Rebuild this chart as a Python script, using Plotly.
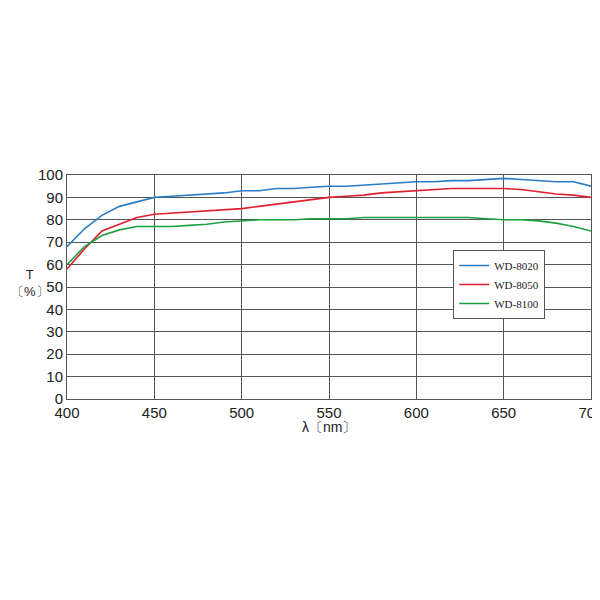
import plotly.graph_objects as go

wl = list(range(400, 701, 10))
wd8020 = [68,76,82,86,88,90,90.5,91,91.5,92,93,93,94,94,94.5,95,95,95.5,96,96.5,97,97,97.5,97.5,98,98.5,98,97.5,97,97,95]
wd8050 = [58,67,75,78,81,82.5,83,83.5,84,84.5,85,86,87,88,89,90,90.5,91,92,92.5,93,93.5,94,94,94,94,93.5,92.5,91.5,91,90]
wd8100 = [60,68,73,75.5,77,77,77,77.5,78,79,79.5,80,80,80,80.5,80.5,80.5,81,81,81,81,81,81,81,80.5,80,80,79.5,78.5,77,75]

fig = go.Figure()
for name, ys, c in [("WD-8020", wd8020, "#2a7cc4"), ("WD-8050", wd8050, "#e0202e"), ("WD-8100", wd8100, "#1fa040")]:
    fig.add_trace(go.Scatter(x=wl, y=ys, mode="lines", name=name, line=dict(color=c, width=1.6)))

fig.update_layout(
    width=600, height=600, paper_bgcolor="white", plot_bgcolor="white",
    margin=dict(l=59, r=17, t=167, b=209, autoexpand=False),
    font=dict(family="Liberation Sans, Arial", size=15, color="#222"),
    legend=dict(x=0.737, y=0.665, xanchor="left", yanchor="top", bgcolor="white",
                bordercolor="#555", borderwidth=1, font=dict(family="Liberation Serif", size=11)),
    xaxis=dict(range=[400, 700], tickvals=[400,450,500,550,600,650,700], showgrid=True,
               gridcolor="#555", gridwidth=1, showline=True, linecolor="#555", mirror=True, ticks=""),
    yaxis=dict(range=[0, 100], dtick=10, showgrid=True, gridcolor="#555", gridwidth=1,
               showline=True, linecolor="#555", mirror=True, ticks=""),
    annotations=[
        dict(text="λ〔nm〕", x=0.5, y=-0.17, xref="paper", yref="paper", showarrow=False, font=dict(size=14)),
        dict(text="T<br>〔%〕", x=-0.07, xanchor="center", y=0.52, xref="paper", yref="paper",
             showarrow=False, font=dict(size=13)),
    ],
)
fig.write_html("out.html")
